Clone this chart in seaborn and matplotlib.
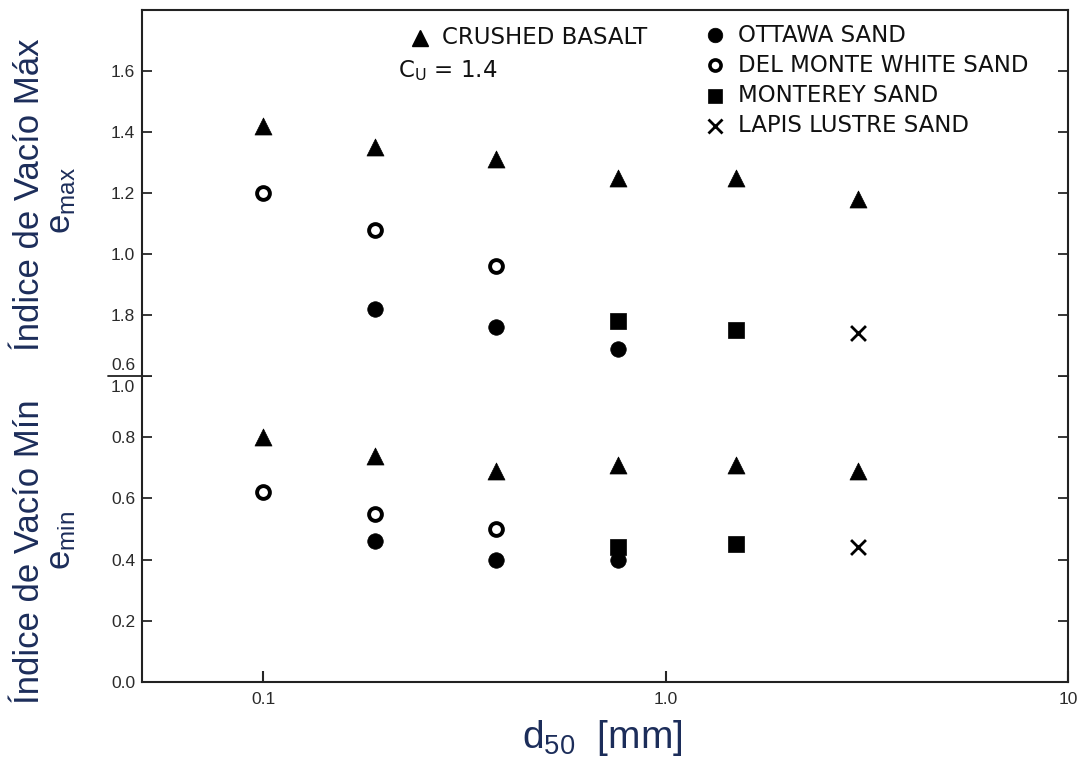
import numpy as np
import pandas as pd
import seaborn as sns
import matplotlib.pyplot as plt

# d50 [mm] of the grain sizes tested
d50 = [0.1, 0.19, 0.38, 0.76, 1.5, 3.0]

# maximum void ratio (upper panel)
basalt_emax = [1.42, 1.35, 1.31, 1.25, 1.25, 1.18]
delmonte_emax = [1.20, 1.08, 0.96]
ottawa_emax = [0.82, 0.76, 0.69]
monterey_emax = [0.78, 0.75]
lapis_emax = [0.74]

# minimum void ratio (lower panel)
basalt_emin = [0.80, 0.74, 0.69, 0.71, 0.71, 0.69]
delmonte_emin = [0.62, 0.55, 0.50]
ottawa_emin = [0.46, 0.40, 0.40]
monterey_emin = [0.44, 0.45]
lapis_emin = [0.44]

materials = ['CRUSHED BASALT', 'OTTAWA SAND', 'DEL MONTE WHITE SAND',
             'MONTEREY SAND', 'LAPIS LUSTRE SAND']
mat_d50 = [d50, d50[1:4], d50[0:3], d50[3:5], d50[5:6]]
mat_emax = [basalt_emax, ottawa_emax, delmonte_emax, monterey_emax, lapis_emax]
mat_emin = [basalt_emin, ottawa_emin, delmonte_emin, monterey_emin, lapis_emin]

upper_ticks = [0.6, 0.8, 1.0, 1.2, 1.4, 1.6]
upper_labels = ['', '1.8', '1.0', '1.2', '1.4', '1.6']   # as printed in the scan
lower_ticks = [0.0, 0.2, 0.4, 0.6, 0.8, 1.0]
lower_labels = ['0.0', '0.2', '0.4', '0.6', '0.8', '']
x_ticks = [0.1, 1.0, 10]
x_labels = ['0.1', '1.0', '10']

rows = []
for m, xs, ema, emi in zip(materials, mat_d50, mat_emax, mat_emin):
    for x, a, b in zip(xs, ema, emi):
        rows.append({'material': m, 'd50': x, 'emax': a, 'emin': b})
df = pd.DataFrame(rows)

marker_kw = {
    'CRUSHED BASALT': dict(marker='^', s=150, color='black', edgecolor='black', linewidth=0.5),
    'OTTAWA SAND': dict(marker='o', s=125, color='black', edgecolor='black', linewidth=0.5),
    'DEL MONTE WHITE SAND': dict(marker='o', s=85, color='white', edgecolor='black', linewidth=2.8),
    'MONTEREY SAND': dict(marker='s', s=120, color='black', edgecolor='black', linewidth=0.5),
    'LAPIS LUSTRE SAND': dict(marker='x', s=115, color='black', linewidth=2.0),
}

sns.set_theme(style='ticks')
plt.rcParams['font.family'] = ['Liberation Sans', 'DejaVu Sans']
plt.rcParams['mathtext.default'] = 'regular'

fig = plt.figure(figsize=(10.85, 7.68), dpi=100)
left, width = 142 / 1085, 926 / 1085
ax_lo = fig.add_axes([left, 1 - 682 / 768, width, 306 / 768])
ax_up = fig.add_axes([left, 1 - 376 / 768, width, 366 / 768])

for m in materials:
    sub = df[df['material'] == m]
    sns.scatterplot(data=sub, x='d50', y='emax', ax=ax_up, legend=False, zorder=3, **marker_kw[m])
    sns.scatterplot(data=sub, x='d50', y='emin', ax=ax_lo, legend=False, zorder=3, **marker_kw[m])

tick_col = '#2a2a2a'
for ax in (ax_up, ax_lo):
    ax.set_xscale('log')
    ax.set_xlim(0.05, 10)
    ax.set_xlabel('')
    ax.set_ylabel('')
    for sp in ax.spines.values():
        sp.set_linewidth(1.5)
        sp.set_color('#222222')
    ax.tick_params(axis='y', direction='in', length=7, width=1.3, right=True,
                   labelsize=12.5, labelcolor=tick_col, pad=5)
    ax.minorticks_off()

ax_up.spines['bottom'].set_visible(False)
ax_lo.spines['top'].set_visible(False)
ax_up.set_ylim(0.6, 1.8)
ax_up.set_yticks(upper_ticks)
ax_up.set_yticklabels(upper_labels)
ax_up.set_xticks([])

ax_lo.set_ylim(0.0, 1.0)
ax_lo.set_yticks(lower_ticks)
ax_lo.set_yticklabels(lower_labels)
ax_lo.set_xticks(x_ticks)
ax_lo.set_xticklabels(x_labels)
ax_lo.tick_params(axis='x', direction='in', length=8, width=1.5, labelsize=12.5,
                  labelcolor=tick_col, pad=7)

# junction: 0.6 above the separator, 1.0 below it
ax_lo.annotate('0.6', xy=(0, 1), xycoords='axes fraction', xytext=(-5, 2),
               textcoords='offset points', ha='right', va='bottom',
               fontsize=12.5, color=tick_col)
ax_lo.annotate('1.0', xy=(0, 1), xycoords='axes fraction', xytext=(-5, -3),
               textcoords='offset points', ha='right', va='top',
               fontsize=12.5, color=tick_col)
ax_lo.plot([-0.037, 0.008], [1.0, 1.0], transform=ax_lo.transAxes, clip_on=False,
           color='#222222', lw=1.3)

# legend block
def fx(px):
    return px / 1085

def fy(py):
    return 1 - py / 768

leg_font = dict(fontsize=16.5, color='#111111', va='center', ha='left',
                family=['DejaVu Sans'])
fig.lines.append(plt.Line2D([fx(420)], [fy(38)], marker='^', ms=12, color='black',
                            transform=fig.transFigure))
fig.text(fx(442), fy(38), 'CRUSHED BASALT', **leg_font)
fig.text(fx(398), fy(71), 'C$_U$ = 1.4', **leg_font)
leg_rows = [('o', 'black', 'OTTAWA SAND', 35),
            ('o', 'white', 'DEL MONTE WHITE SAND', 65),
            ('s', 'black', 'MONTEREY SAND', 96),
            ('x', 'black', 'LAPIS LUSTRE SAND', 126)]
for mk, fc, lab, py in leg_rows:
    if fc == 'white':
        ms, mew = 8, 2.6
    elif mk == 'x':
        ms, mew = 10, 2
    else:
        ms, mew = 10.5, 0.5
    fig.lines.append(plt.Line2D([fx(715)], [fy(py)], marker=mk, ms=ms,
                                markerfacecolor=fc, markeredgecolor='black',
                                markeredgewidth=mew, color='black',
                                transform=fig.transFigure))
    fig.text(fx(738), fy(py), lab, **leg_font)

# axis titles
lab_col = '#1c2d5a'
fig.text(fx(30), fy(195), 'Índice de Vacío Máx', rotation=90, fontsize=25,
         color=lab_col, ha='center', va='center')
fig.text(fx(62), fy(200), 'e$_{max}$', rotation=90, fontsize=25,
         color=lab_col, ha='center', va='center')
fig.text(fx(30), fy(552), 'Índice de Vacío Mín', rotation=90, fontsize=25,
         color=lab_col, ha='center', va='center')
fig.text(fx(62), fy(540), 'e$_{min}$', rotation=90, fontsize=25,
         color=lab_col, ha='center', va='center')
fig.text(fx(602), fy(738), 'd$_{50}$  [mm]', fontsize=28, color=lab_col,
         ha='center', va='center')

fig.savefig('out.png', dpi=100, facecolor='white')
